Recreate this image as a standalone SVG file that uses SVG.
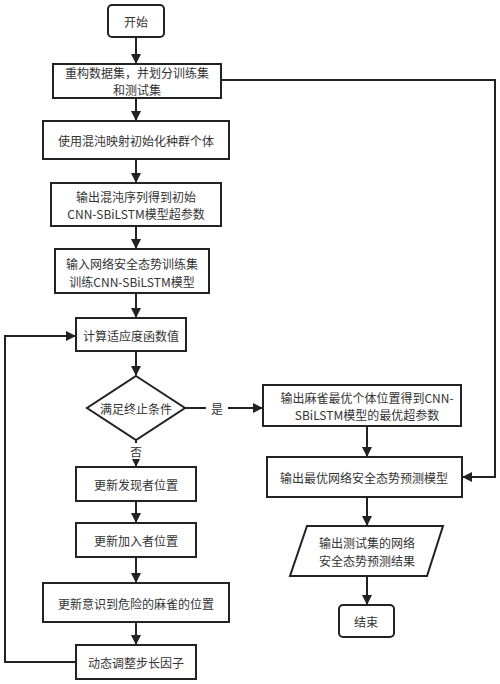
<svg xmlns="http://www.w3.org/2000/svg" width="500" height="684" viewBox="0 0 500 684">
<style>
.n{fill:#fff;stroke:#222;stroke-width:2}
.t{font-family:"Noto Sans CJK SC","Noto Sans",sans-serif;font-size:12px;fill:#333;text-anchor:middle;dominant-baseline:central}
.c{fill:none;stroke:#222;stroke-width:2}
</style>
<defs>
<marker id="a" viewBox="0 0 10 10" refX="9" refY="5" markerWidth="5" markerHeight="5" orient="auto" markerUnits="strokeWidth">
<path d="M0,0 L10,5 L0,10 z" fill="#222"/>
</marker>
</defs>
<rect width="500" height="684" fill="#fff"/>
<g id="connectors">
<line class="c" x1="136" y1="37" x2="136" y2="63" marker-end="url(#a)"/>
<line class="c" x1="136" y1="98" x2="136" y2="120" marker-end="url(#a)"/>
<line class="c" x1="136" y1="159" x2="136" y2="182" marker-end="url(#a)"/>
<line class="c" x1="136" y1="226" x2="136" y2="248" marker-end="url(#a)"/>
<line class="c" x1="136" y1="293" x2="136" y2="317" marker-end="url(#a)"/>
<line class="c" x1="136" y1="351" x2="136" y2="375" marker-end="url(#a)"/>
<line class="c" x1="136" y1="440" x2="136" y2="466" marker-end="url(#a)"/>
<line class="c" x1="136" y1="501" x2="136" y2="522" marker-end="url(#a)"/>
<line class="c" x1="136" y1="557" x2="136" y2="582" marker-end="url(#a)"/>
<line class="c" x1="136" y1="622" x2="136" y2="644" marker-end="url(#a)"/>
<polyline class="c" points="76,662 5,662 5,336 75,336" marker-end="url(#a)"/>
<line class="c" x1="185" y1="408" x2="262" y2="408" marker-end="url(#a)"/>
<polyline class="c" points="221,80 495,80 495,477 463,477" marker-end="url(#a)"/>
<line class="c" x1="367" y1="426" x2="367" y2="456" marker-end="url(#a)"/>
<line class="c" x1="367" y1="497" x2="367" y2="525" marker-end="url(#a)"/>
<line class="c" x1="367" y1="576" x2="367" y2="604" marker-end="url(#a)"/>
<rect x="206" y="399" width="22" height="18" fill="#fff"/>
<text class="t" x="217" y="408">是</text>
<rect x="127" y="443" width="18" height="16" fill="#fff"/>
<text class="t" x="136" y="451">否</text>
</g>
<g id="start"><rect class="n" x="108" y="5" width="56" height="32" rx="4"/><text class="t" x="136" y="21">开始</text></g>
<g id="rebuild"><rect class="n" x="53" y="64" width="168" height="34"/><text class="t" x="137" y="72">重构数据集，并划分训练集</text><text class="t" x="137" y="89.5">和测试集</text></g>
<g id="init"><rect class="n" x="43" y="121" width="186" height="38"/><text class="t" x="136" y="140">使用混沌映射初始化种群个体</text></g>
<g id="chaos"><rect class="n" x="51" y="183" width="170" height="43"/><text class="t" x="136" y="196">输出混沌序列得到初始</text><text class="t" x="136" y="213.5">CNN-SBiLSTM模型超参数</text></g>
<g id="train"><rect class="n" x="55" y="249" width="154" height="44"/><text class="t" x="132" y="263">输入网络安全态势训练集</text><text class="t" x="132" y="281">训练CNN-SBiLSTM模型</text></g>
<g id="fitness"><rect class="n" x="76" y="318" width="110" height="33"/><text class="t" x="131" y="335">计算适应度函数值</text></g>
<g id="cond"><polygon class="n" points="136,376 185,408 136,440 87,408"/><text class="t" x="136" y="408">满足终止条件</text></g>
<g id="finder"><rect class="n" x="76" y="467" width="120" height="34"/><text class="t" x="136" y="484">更新发现者位置</text></g>
<g id="joiner"><rect class="n" x="76" y="523" width="120" height="34"/><text class="t" x="136" y="540">更新加入者位置</text></g>
<g id="danger"><rect class="n" x="43" y="583" width="186" height="39"/><text class="t" x="136" y="603">更新意识到危险的麻雀的位置</text></g>
<g id="step"><rect class="n" x="76" y="645" width="120" height="34"/><text class="t" x="136" y="662">动态调整步长因子</text></g>
<g id="best"><rect class="n" x="263" y="385" width="198" height="41"/><text class="t" x="367" y="397">输出麻雀最优个体位置得到CNN-</text><text class="t" x="367" y="414.5">SBiLSTM模型的最优超参数</text></g>
<g id="model"><rect class="n" x="267" y="457" width="195" height="40"/><text class="t" x="364" y="477">输出最优网络安全态势预测模型</text></g>
<g id="result"><polygon class="n" points="307,526 443,526 427,576 290,576"/><text class="t" x="367" y="542">输出测试集的网络</text><text class="t" x="367" y="560">安全态势预测结果</text></g>
<g id="end"><rect class="n" x="339" y="605" width="55" height="32" rx="4"/><text class="t" x="366" y="621">结束</text></g>
</svg>
